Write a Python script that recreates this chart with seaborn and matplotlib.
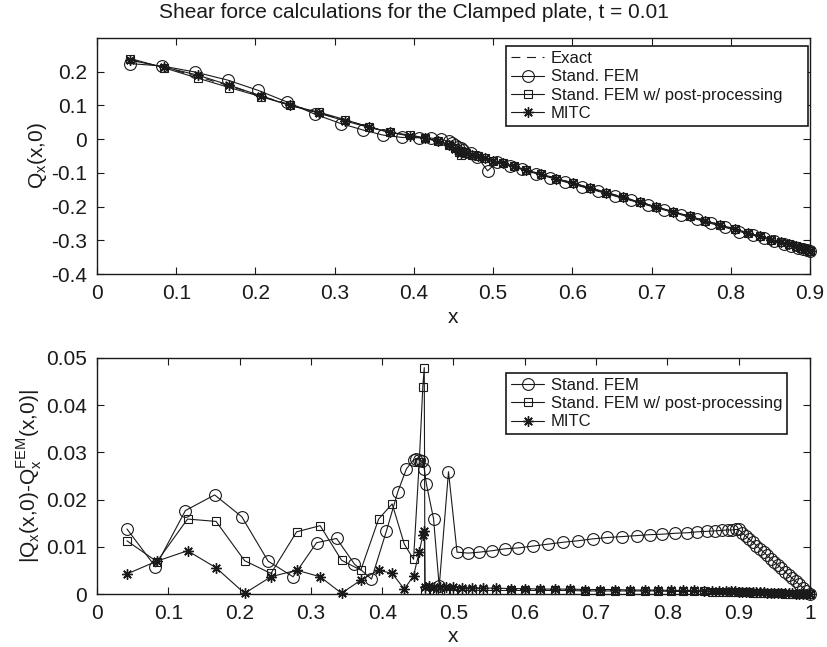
import matplotlib
matplotlib.use('Agg')
import matplotlib.pyplot as plt
import seaborn as sns
import numpy as np

sns.set_theme(style='ticks')
plt.rcParams['font.family'] = ['Liberation Sans', 'DejaVu Sans']
plt.rcParams['mathtext.fontset'] = 'custom'
plt.rcParams['mathtext.rm'] = 'Liberation Sans'
plt.rcParams['axes.unicode_minus'] = False

# ---- data ----
# Stand. FEM (circles): nodes
x_fem = [0.042, 0.082, 0.124, 0.165, 0.203, 0.240, 0.275, 0.308, 0.336, 0.361, 0.385, 0.406,
         0.422, 0.434, 0.444, 0.448, 0.452, 0.456, 0.459, 0.462, 0.472, 0.480, 0.493,
         0.505, 0.521, 0.536, 0.554, 0.572, 0.591, 0.612, 0.633, 0.654, 0.674, 0.695, 0.716,
         0.737, 0.757, 0.775, 0.793, 0.811, 0.828, 0.842, 0.855, 0.867, 0.876, 0.885, 0.891,
         0.896, 0.900,
         0.905, 0.910, 0.915, 0.920, 0.925, 0.930, 0.935, 0.940, 0.945, 0.950, 0.955, 0.960,
         0.965, 0.970, 0.975, 0.980, 0.985, 0.990, 0.995, 1.000]
q_fem = [0.224, 0.217, 0.199, 0.175, 0.145, 0.110, 0.074, 0.046, 0.027, 0.012, 0.005, 0.004,
         0.003, -0.001, -0.006, -0.010, -0.016, -0.022, -0.026, -0.031, -0.042, -0.052, -0.094,
         -0.069, -0.080, -0.090, -0.102, -0.114, -0.127, -0.141, -0.155, -0.169, -0.182, -0.196,
         -0.210, -0.224, -0.238, -0.250, -0.262, -0.274, -0.285, -0.294, -0.303, -0.311, -0.317,
         -0.323, -0.327, -0.330, -0.333]
err_fem = [0.0138, 0.0058, 0.0177, 0.0210, 0.0164, 0.0070, 0.0037, 0.0109, 0.0118, 0.0064,
           0.0032, 0.0134, 0.0217, 0.0265, 0.0284, 0.0285, 0.0284, 0.0282, 0.0265, 0.0233,
           0.0160, 0.0017, 0.0259,
           0.0089, 0.0087, 0.0089, 0.0092, 0.0096, 0.0098, 0.0102, 0.0106, 0.0110, 0.0113,
           0.0117, 0.0120, 0.0122, 0.0124, 0.0126, 0.0127, 0.0129, 0.0130, 0.0132, 0.0133,
           0.0134, 0.0135, 0.0136, 0.0136, 0.0137, 0.0137,
           0.0130, 0.0123, 0.0116, 0.0110, 0.0103, 0.0096, 0.0089, 0.0082, 0.0075, 0.0068,
           0.0062, 0.0055, 0.0048, 0.0041, 0.0034, 0.0027, 0.0021, 0.0014, 0.0007, 0.0000]

# post-processed FEM (squares) and MITC (stars) share their nodes
x_pp = [0.042, 0.084, 0.127, 0.167, 0.207, 0.244, 0.280, 0.313, 0.343, 0.370, 0.395, 0.414,
        0.431, 0.444, 0.452, 0.457, 0.459, 0.460,
        0.466, 0.473, 0.481, 0.490, 0.500, 0.512, 0.526, 0.542, 0.560, 0.580, 0.601, 0.622,
        0.643, 0.664, 0.685, 0.706, 0.727, 0.748, 0.768, 0.787, 0.805, 0.822, 0.837, 0.851,
        0.863, 0.873, 0.882, 0.889, 0.895, 0.900,
        0.905, 0.910, 0.915, 0.920, 0.925, 0.930, 0.935, 0.940, 0.945, 0.950, 0.955, 0.960,
        0.965, 0.970, 0.975, 0.980, 0.985, 0.990, 0.995, 1.000]
q_exact = [0.236, 0.213, 0.186, 0.158, 0.128, 0.102, 0.078, 0.056, 0.037, 0.021, 0.010, 0.002,
           -0.006, -0.014, -0.021, -0.027, -0.031, -0.034,
           -0.040, -0.045, -0.050, -0.056, -0.063, -0.071, -0.080, -0.091, -0.103, -0.116,
           -0.130, -0.144, -0.158, -0.172, -0.186, -0.200, -0.214, -0.228, -0.241, -0.254,
           -0.266, -0.277, -0.287, -0.297, -0.305, -0.311, -0.317, -0.322, -0.326, -0.331]
q_post = [0.239, 0.212, 0.181, 0.153, 0.126, 0.100, 0.080, 0.058, 0.036, 0.020, 0.012, 0.004,
          -0.006, -0.016, -0.026, -0.038, -0.046, -0.035,
          -0.041, -0.046, -0.051, -0.057, -0.064, -0.072, -0.081, -0.092, -0.104, -0.117,
          -0.131, -0.145, -0.159, -0.173, -0.187, -0.201, -0.215, -0.229, -0.242, -0.255,
          -0.267, -0.278, -0.288, -0.298, -0.306, -0.312, -0.318, -0.323, -0.327, -0.332]
err_post = [0.0113, 0.0069, 0.0159, 0.0154, 0.0071, 0.0044, 0.0132, 0.0145, 0.0072, 0.0051,
            0.0159, 0.0191, 0.0106, 0.0074, 0.0280, 0.0439, 0.0479, 0.0010,
            0.0009, 0.0009, 0.0009, 0.0008, 0.0008, 0.0008, 0.0008, 0.0008, 0.0008, 0.0008,
            0.0008, 0.0008, 0.0008, 0.0008, 0.0007, 0.0007, 0.0007, 0.0007, 0.0007, 0.0007,
            0.0006, 0.0006, 0.0006, 0.0006, 0.0005, 0.0005, 0.0005, 0.0005, 0.0005, 0.0004,
            0.0004, 0.0004, 0.0004, 0.0003, 0.0003, 0.0003, 0.0003, 0.0002, 0.0002, 0.0002,
            0.0002, 0.0002, 0.0001, 0.0001, 0.0001, 0.0001, 0.0001, 0.0001, 0.0000, 0.0000]
q_mitc = [0.234, 0.214, 0.190, 0.160, 0.128, 0.100, 0.077, 0.054, 0.035, 0.020, 0.009, 0.002,
          -0.006, -0.016, -0.028, -0.036, -0.040, -0.035,
          -0.041, -0.046, -0.051, -0.057, -0.064, -0.072, -0.081, -0.092, -0.104, -0.117,
          -0.131, -0.145, -0.159, -0.173, -0.187, -0.201, -0.215, -0.229, -0.242, -0.255,
          -0.267, -0.278, -0.288, -0.298, -0.306, -0.312, -0.318, -0.323, -0.327, -0.332]
err_mitc = [0.0043, 0.0070, 0.0092, 0.0056, 0.0002, 0.0037, 0.0051, 0.0037, 0.0002, 0.0030,
            0.0051, 0.0044, 0.0011, 0.0039, 0.0090, 0.0125, 0.0133, 0.0016,
            0.0017, 0.0016, 0.0016, 0.0015, 0.0015, 0.0014, 0.0014, 0.0013, 0.0013, 0.0012,
            0.0012, 0.0011, 0.0011, 0.0011, 0.0010, 0.0010, 0.0010, 0.0009, 0.0009, 0.0009,
            0.0008, 0.0008, 0.0008, 0.0007, 0.0007, 0.0007, 0.0006, 0.0006, 0.0006, 0.0005,
            0.0005, 0.0005, 0.0005, 0.0004, 0.0004, 0.0004, 0.0004, 0.0003, 0.0003, 0.0003,
            0.0003, 0.0002, 0.0002, 0.0002, 0.0002, 0.0001, 0.0001, 0.0001, 0.0001, 0.0000]

xt_top = [0, 0.1, 0.2, 0.3, 0.4, 0.5, 0.6, 0.7, 0.8, 0.9]
xt_bot = [0, 0.1, 0.2, 0.3, 0.4, 0.5, 0.6, 0.7, 0.8, 0.9, 1]
yt_top = [-0.4, -0.3, -0.2, -0.1, 0, 0.1, 0.2]
yt_bot = [0, 0.01, 0.02, 0.03, 0.04, 0.05]

names = ['Exact', 'Stand. FEM', 'Stand. FEM w/ post-processing', 'MITC']

# ---- styling ----
ink = '#1a1a1a'
lw = 0.8
star = (8, 2, 0)
common = dict(color=ink, lw=lw, markeredgecolor=ink, markeredgewidth=0.8, clip_on=False,
              sort=False, estimator=None)
star_kw = dict(common, markeredgewidth=1.0)

fig = plt.figure(figsize=(8.27, 6.47), dpi=100)
ax1 = fig.add_axes([0.1173, 0.5765, 0.8621, 0.3648])
ax2 = fig.add_axes([0.1173, 0.0815, 0.8621, 0.3656])

n_top = len(q_exact)
sns.lineplot(x=x_pp[:n_top], y=q_exact, ax=ax1, color=ink, lw=lw, dashes=False,
             linestyle=(0, (8, 6)), label=names[0], clip_on=False, sort=False, estimator=None)
sns.lineplot(x=x_fem[:len(q_fem)], y=q_fem, ax=ax1, marker='o', ms=8.5, mfc='none',
             label=names[1], **common)
sns.lineplot(x=x_pp[:n_top], y=q_post, ax=ax1, marker='s', ms=5.5, mfc='none',
             label=names[2], **common)
sns.lineplot(x=x_pp[:n_top], y=q_mitc, ax=ax1, marker=star, ms=7.5, label=names[3], **star_kw)

sns.lineplot(x=x_fem, y=err_fem, ax=ax2, marker='o', ms=8.5, mfc='none', label=names[1], **common)
sns.lineplot(x=x_pp, y=err_post, ax=ax2, marker='s', ms=5.5, mfc='none', label=names[2], **common)
sns.lineplot(x=x_pp, y=err_mitc, ax=ax2, marker=star, ms=7.5, label=names[3], **star_kw)

fs = 15
for ax, xt, yt, xl, yl in [(ax1, xt_top, yt_top, (0, 0.9), (-0.4, 0.3)),
                           (ax2, xt_bot, yt_bot, (0, 1), (0, 0.05))]:
    ax.set_xlim(*xl)
    ax.set_ylim(*yl)
    ax.set_xticks(xt)
    ax.set_xticklabels([('%g' % v) for v in xt])
    ax.set_yticks(yt)
    ax.set_yticklabels([('%g' % v) for v in yt])
    ax.tick_params(direction='in', length=5, width=0.8, colors=ink, labelsize=fs,
                   top=True, right=True, pad=7)
    for s in ax.spines.values():
        s.set_color(ink)
        s.set_linewidth(1.0)
    ax.set_facecolor('white')

ax1.set_xlabel('x', fontsize=fs, color=ink, labelpad=4)
ax2.set_xlabel('x', fontsize=fs, color=ink, labelpad=3)
ax1.set_ylabel(r'Q$_\mathregular{x}$(x,0)', fontsize=fs, color=ink)
ax2.set_ylabel(r'|Q$_\mathregular{x}$(x,0)-Q$_\mathregular{x}^\mathregular{FEM}$(x,0)|',
               fontsize=fs, color=ink)
ax1.yaxis.set_label_coords(-0.068, 0.5)
ax2.yaxis.set_label_coords(-0.074, 0.5)

leg_kw = dict(loc='upper left', fontsize=12, frameon=True, fancybox=False, borderaxespad=0,
              handlelength=2.0, handletextpad=0.4, labelspacing=0.2, borderpad=0.3,
              edgecolor=ink, framealpha=1, mode='expand')
lg1 = ax1.legend(bbox_to_anchor=(0.5736, 0.5, 0.4236, 0.466), **leg_kw)
lg2 = ax2.legend(bbox_to_anchor=(0.5736, 0.5, 0.394, 0.4366), **leg_kw)
for lg in (lg1, lg2):
    lg.get_frame().set_linewidth(1.2)
    for t in lg.get_texts():
        t.set_color(ink)

fig.text(0.5, 1 - 12 / 647, 'Shear force calculations for the Clamped plate, t = 0.01',
         ha='center', va='center', fontsize=fs, color=ink)

fig.savefig('out.png', dpi=100, facecolor='white')
